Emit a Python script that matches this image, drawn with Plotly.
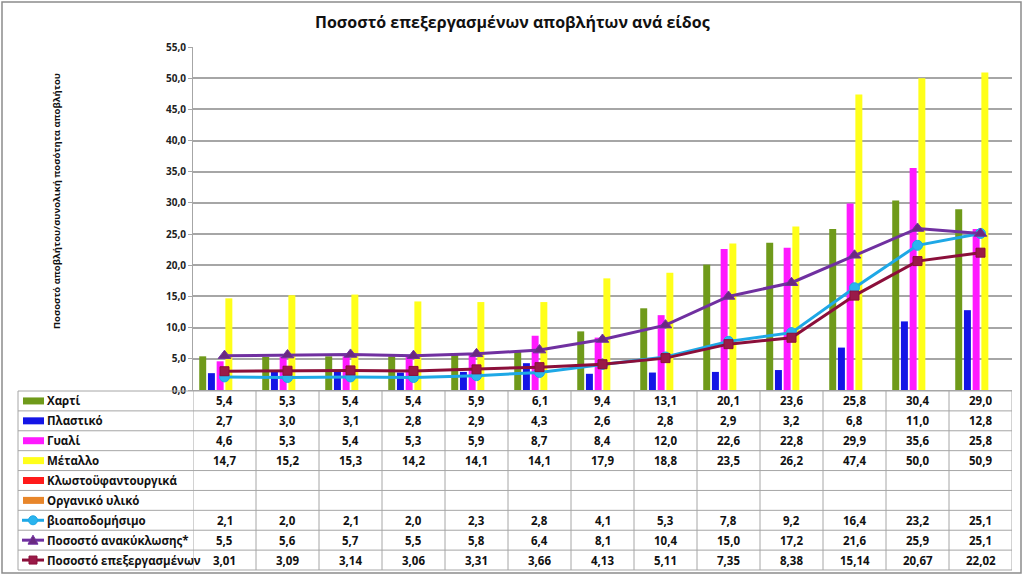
import plotly.graph_objects as go

categories = list(range(13))
paper = [5.4, 5.3, 5.4, 5.4, 5.9, 6.1, 9.4, 13.1, 20.1, 23.6, 25.8, 30.4, 29.0]
plastic = [2.7, 3.0, 3.1, 2.8, 2.9, 4.3, 2.6, 2.8, 2.9, 3.2, 6.8, 11.0, 12.8]
glass = [4.6, 5.3, 5.4, 5.3, 5.9, 8.7, 8.4, 12.0, 22.6, 22.8, 29.9, 35.6, 25.8]
metal = [14.7, 15.2, 15.3, 14.2, 14.1, 14.1, 17.9, 18.8, 23.5, 26.2, 47.4, 50.0, 50.9]
textile = [None] * 13
organic = [None] * 13
biodeg = [2.1, 2.0, 2.1, 2.0, 2.3, 2.8, 4.1, 5.3, 7.8, 9.2, 16.4, 23.2, 25.1]
recycling = [5.5, 5.6, 5.7, 5.5, 5.8, 6.4, 8.1, 10.4, 15.0, 17.2, 21.6, 25.9, 25.1]
processed = [3.01, 3.09, 3.14, 3.06, 3.31, 3.66, 4.13, 5.11, 7.35, 8.38, 15.14, 20.67, 22.02]

names = ["Χαρτί", "Πλαστικό", "Γυαλί", "Μέταλλο", "Κλωστοϋφαντουργικά", "Οργανικό υλικό",
         "βιοαποδομήσιμο", "Ποσοστό ανακύκλωσης*", "Ποσοστό επεξεργασμένων"]
title = "Ποσοστό επεξεργασμένων αποβλήτων ανά είδος"
ytitle = "Ποσοστό αποβλήτου/συνολική ποσότητα αποβλήτου"
yticks = [0, 5, 10, 15, 20, 25, 30, 35, 40, 45, 50, 55]

bar_series = [paper, plastic, glass, metal, textile, organic]
bar_colors = ["#6f9a1a", "#1414e6", "#ff1aff", "#ffff1a", "#ff1a1a", "#e8862a"]
line_series = [biodeg, recycling, processed]
line_colors = ["#1ea8e6", "#7030a0", "#8b0f3a"]
line_marker_colors = ["#2ab4ee", "#6a2a80", "#9a1a48"]
line_symbols = ["circle", "triangle-up", "square"]
line_sizes = [10, 11, 9]
decimals = [1, 1, 1, 1, 1, 1, 1, 1, 2]
all_series = bar_series + line_series

W, H = 1024, 576
L, R, T, B = 193, 1012, 47, 390

def px(x):
    return (x - L) / (R - L)

def py(y):
    return 1 - (y - T) / (B - T)

fig = go.Figure()
for name, vals, col in zip(names[:6], bar_series, bar_colors):
    fig.add_trace(go.Bar(x=categories, y=vals, name=name, marker=dict(color=col, line=dict(width=0))))
for name, vals, col, mc, sym, sz in zip(names[6:], line_series, line_colors, line_marker_colors, line_symbols, line_sizes):
    fig.add_trace(go.Scatter(x=categories, y=vals, name=name, mode="lines+markers",
                             line=dict(color=col, width=3),
                             marker=dict(symbol=sym, size=sz, color=mc, line=dict(color=col, width=1))))

shapes = []
annotations = []
grid = "#a6a6a6"
txt_font = dict(family="Open Sans", size=11.5, color="#111111")
# outer frame
shapes.append(dict(type="rect", xref="paper", yref="paper", x0=px(2), x1=px(1021), y0=py(2), y1=py(573),
                   line=dict(color="#8c8c8c", width=1.5), layer="below"))
# table grid
row_top = 391
row_h = (570 - row_top) / 9
tbl_left = 18
for i in range(10):
    yy = row_top + i * row_h
    shapes.append(dict(type="line", xref="paper", yref="paper", x0=px(tbl_left), x1=px(R),
                       y0=py(yy), y1=py(yy), line=dict(color=grid, width=1)))
shapes.append(dict(type="line", xref="paper", yref="paper", x0=px(tbl_left), x1=px(tbl_left),
                   y0=py(row_top), y1=py(570), line=dict(color=grid, width=1)))
for k in range(len(categories) + 1):
    shapes.append(dict(type="line", xref="x", yref="paper", x0=k - 0.5, x1=k - 0.5,
                       y0=py(B), y1=py(570), line=dict(color=grid, width=1)))

for r, (name, vals, dec) in enumerate(zip(names, all_series, decimals)):
    yc = row_top + (r + 0.5) * row_h
    if r < 6:
        shapes.append(dict(type="rect", xref="paper", yref="paper", x0=px(23), x1=px(44),
                           y0=py(yc - 3.5), y1=py(yc + 3.5), fillcolor=bar_colors[r],
                           line=dict(color=bar_colors[r], width=0)))
    annotations.append(dict(xref="paper", yref="paper", x=px(45), y=py(yc), text=f"<b>{name}</b>",
                            showarrow=False, xanchor="left", yanchor="middle", font=txt_font))
    for k, v in zip(categories, vals):
        if v is None:
            continue
        txt = f"{v:.{dec}f}".replace(".", ",")
        annotations.append(dict(xref="x", yref="paper", x=k, y=py(yc), text=f"<b>{txt}</b>",
                                showarrow=False, xanchor="center", yanchor="middle", font=txt_font))

# legend keys for the line series
for j in range(3):
    yc = row_top + (6 + j + 0.5) * row_h
    col, mc = line_colors[j], line_marker_colors[j]
    shapes.append(dict(type="line", xref="paper", yref="paper", x0=px(22), x1=px(44),
                       y0=py(yc), y1=py(yc), line=dict(color=col, width=3)))
    cx = 33
    if j == 0:
        shapes.append(dict(type="circle", xref="paper", yref="paper", x0=px(cx - 4.5), x1=px(cx + 4.5),
                           y0=py(yc - 4.5), y1=py(yc + 4.5), fillcolor=mc, line=dict(color=col, width=1)))
    elif j == 1:
        p = f"M {px(cx - 5)},{py(yc + 4)} L {px(cx + 5)},{py(yc + 4)} L {px(cx)},{py(yc - 5)} Z"
        shapes.append(dict(type="path", xref="paper", yref="paper", path=p, fillcolor=mc,
                           line=dict(color=col, width=1)))
    else:
        shapes.append(dict(type="rect", xref="paper", yref="paper", x0=px(cx - 4), x1=px(cx + 4),
                           y0=py(yc - 4), y1=py(yc + 4), fillcolor=mc, line=dict(color=col, width=1)))

annotations.append(dict(xref="paper", yref="paper", x=px(512), y=py(22), text=f"<b>{title}</b>",
                        showarrow=False, xanchor="center", yanchor="middle",
                        font=dict(family="Open Sans", size=16, color="#111111")))
annotations.append(dict(xref="paper", yref="paper", x=px(56), y=py(201), text=f"<b>{ytitle}</b>",
                        showarrow=False, textangle=-90, xanchor="center", yanchor="middle",
                        font=dict(family="Open Sans", size=9.5, color="#111111")))

fig.update_layout(
    width=W, height=H,
    margin=dict(l=L, r=W - R, t=T, b=H - B),
    paper_bgcolor="white", plot_bgcolor="white",
    barmode="group", bargap=0.17, bargroupgap=0.2,
    showlegend=False,
    separators=",.",
    shapes=shapes, annotations=annotations,
    xaxis=dict(range=[-0.5, 12.5], showticklabels=False, showgrid=False, zeroline=False,
               showline=True, linecolor=grid, linewidth=1, ticks=""),
    yaxis=dict(range=[0, 55], tickvals=yticks,
               ticktext=[f"<b>{v:.1f}</b>".replace(".", ",") for v in yticks],
               showgrid=True, gridcolor=grid,
               gridwidth=1.5, zeroline=False, showline=True, linecolor=grid, linewidth=1,
               ticks="outside", ticklen=4, tickcolor=grid,
               tickfont=dict(family="Open Sans", size=10, color="#222222")),
    font=dict(family="Open Sans"),
)

fig.write_html("out.html", config={"displayModeBar": False},
               post_script="document.body.style.margin='0';document.body.style.padding='0';")
